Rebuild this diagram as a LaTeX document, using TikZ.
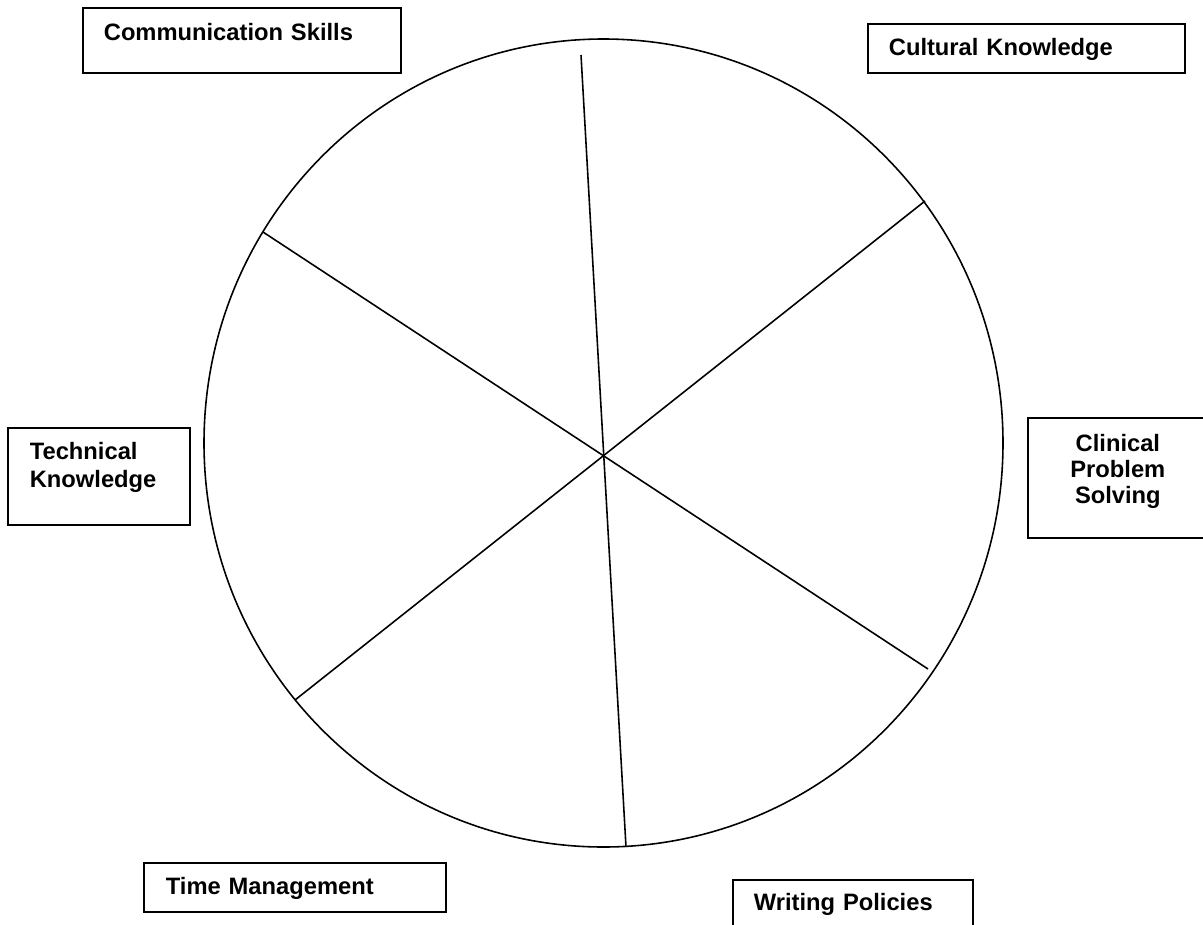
\documentclass[tikz,border=0pt]{standalone}
\usepackage{fontspec}
\setmainfont{Liberation Sans}
\tikzset{
  skillbox/.style={draw, line width=1pt, anchor=north west, inner ysep=0pt, align=left, font=\fontsize{13.5}{15.9}\selectfont\bfseries},
  spoke/.style={line width=0.9pt}
}

\begin{document}
\begin{tikzpicture}[x=0.02cm, y=-0.02cm]
  \useasboundingbox (0,0) rectangle (1203,924);
  \clip (0,0) rectangle (1203,924);
  % the wheel and its three spokes
  \coordinate (hub) at (603.5,443);
  \draw[spoke] (hub) ellipse [x radius=399.5, y radius=404];
  \coordinate (top) at (581,55);
  \coordinate (bottom) at (626,847);
  \coordinate (upleft) at (263,232);
  \coordinate (lowright) at (928,669);
  \coordinate (upright) at (925,201);
  \coordinate (lowleft) at (295,700);
  \draw[spoke] (top) -- (bottom);
  \draw[spoke] (upleft) -- (lowright);
  \draw[spoke] (upright) -- (lowleft);
  % skill labels round the wheel
  \node[skillbox, inner xsep=0.42cm, text width=5.52cm, text height=0.66cm, text depth=0.64cm] (comm) at (82,7) {Communication Skills};
  \node[skillbox, inner xsep=0.42cm, text width=5.5cm, text height=0.64cm, text depth=0.34cm] (cult) at (867,23) {Cultural Knowledge};
  \node[skillbox, inner xsep=0.44cm, text width=2.76cm, text height=0.64cm, text depth=1.3cm] (tech) at (7,427) {Technical\\Knowledge};
  \node[skillbox, align=center, font=\fontsize{13.5}{14.6}\selectfont\bfseries, inner xsep=0.2cm, text width=3.2cm, text height=0.68cm, text depth=1.72cm] (clin) at (1027,417) {Clinical\\Problem\\Solving};
  \node[skillbox, inner xsep=0.44cm, text width=5.16cm, text height=0.64cm, text depth=0.34cm] (time) at (143,862) {Time Management};
  \node[skillbox, inner xsep=0.42cm, text width=3.96cm, text height=0.62cm, text depth=0.58cm] (writ) at (732,879) {Writing Policies};
\end{tikzpicture}
\end{document}
